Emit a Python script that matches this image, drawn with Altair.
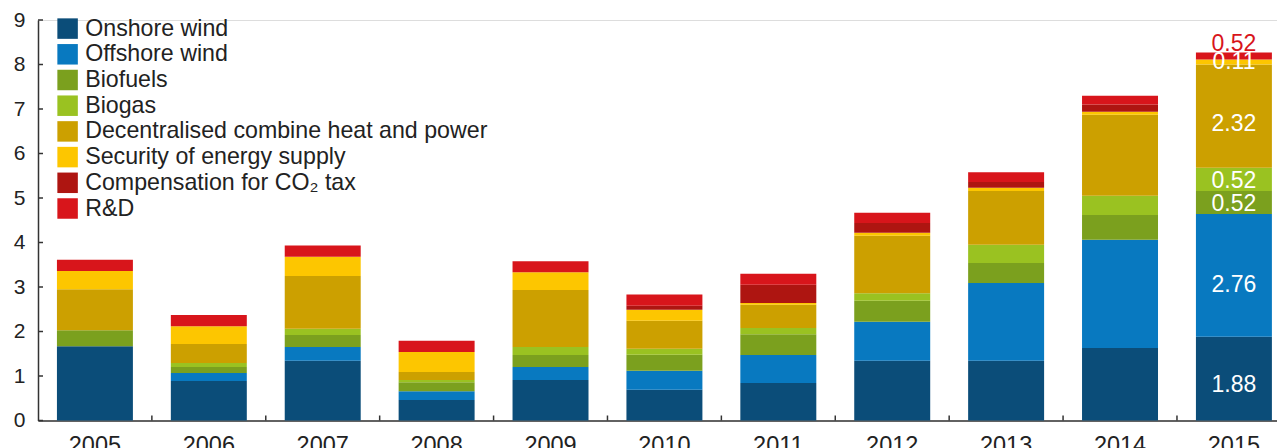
import altair as alt
import pandas as pd

years = ["2005", "2006", "2007", "2008", "2009", "2010", "2011", "2012", "2013", "2014", "2015"]
series = [
    "Onshore wind",
    "Offshore wind",
    "Biofuels",
    "Biogas",
    "Decentralised combine heat and power",
    "Security of energy supply",
    "Compensation for CO\u2082 tax",
    "R&D",
]
colors = ["#0b4d79", "#0879c0", "#7ba01e", "#9ac221", "#cca000", "#fdc600", "#ae1511", "#d8151b"]

onshore = [1.67, 0.89, 1.34, 0.46, 0.91, 0.69, 0.84, 1.34, 1.34, 1.63, 1.88]
offshore = [0.00, 0.18, 0.31, 0.20, 0.29, 0.43, 0.63, 0.88, 1.75, 2.43, 2.76]
biofuels = [0.36, 0.13, 0.27, 0.20, 0.27, 0.36, 0.47, 0.47, 0.45, 0.56, 0.52]
biogas = [0.00, 0.09, 0.14, 0.05, 0.18, 0.13, 0.14, 0.17, 0.41, 0.43, 0.52]
chp = [0.92, 0.43, 1.19, 0.18, 1.28, 0.63, 0.52, 1.29, 1.21, 1.82, 2.32]
security = [0.41, 0.40, 0.43, 0.45, 0.40, 0.25, 0.04, 0.07, 0.07, 0.07, 0.11]
co2 = [0.00, 0.00, 0.00, 0.00, 0.00, 0.09, 0.41, 0.22, 0.13, 0.16, 0.00]
rnd = [0.25, 0.25, 0.25, 0.25, 0.25, 0.25, 0.25, 0.23, 0.22, 0.20, 0.16]

# printed labels on the 2015 bar (as shown in the original)
labels_2015 = ["1.88", "2.76", "0.52", "0.52", "2.32", "0.11", "", "0.52"]

y_ticks = [0, 1, 2, 3, 4, 5, 6, 7, 8, 9]

all_values = [onshore, offshore, biofuels, biogas, chp, security, co2, rnd]

LABEL_FRAC = 0.42  # where inside a segment its label sits (style)

rows = []
for yi, yr in enumerate(years):
    base = 0.0
    for si, name in enumerate(series):
        v = all_values[si][yi]
        rows.append({"year": yr, "series": name, "order": si, "value": v,
                     "y0": base, "y1": base + v, "lpos": base + v * LABEL_FRAC})
        base += v
df = pd.DataFrame(rows)

lab = df[df["year"] == "2015"].copy().reset_index(drop=True)
lab["text"] = labels_2015
inner = lab[(lab["text"] != "") & (lab["series"] != "R&D")]
top = lab[lab["series"] == "R&D"]

FONT = "Liberation Sans"
TXT = "#222222"
W = 1239
H = 400.5
STEP = W / (11 - 0.333 + 2 * 0.1055)

xscale = alt.Scale(domain=years, paddingInner=0.333, paddingOuter=0.1055, align=0.788, round=False)
yscale = alt.Scale(domain=[0, 9], nice=False, zero=True)

bars = alt.Chart(df).mark_bar(strokeWidth=0).encode(
    x=alt.X("year:N", scale=xscale, sort=years,
            axis=alt.Axis(title=None, labelAngle=0, ticks=False, labelFontSize=23.5,
                          labelFont=FONT, labelColor=TXT, labelPadding=12.5,
                          domainColor="#333333", domainWidth=1.5)),
    y=alt.Y("y0:Q", scale=yscale,
            axis=alt.Axis(title=None, values=y_ticks, ticks=False, grid=False,
                          labelFontSize=21, labelFont=FONT, labelColor=TXT,
                          labelPadding=13, domainColor="#333333", domainWidth=1.5)),
    y2="y1:Q",
    color=alt.Color("series:N", scale=alt.Scale(domain=series, range=colors),
                    legend=alt.Legend(title=None, orient="none", legendX=18, legendY=-3,
                                      symbolType="square", symbolSize=420,
                                      symbolStrokeWidth=0, symbolOpacity=1,
                                      labelFont=FONT,
                                      labelFontSize=23.2, labelColor=TXT,
                                      labelOffset=6, rowPadding=1.7,
                                      labelLimit=700)),
    order=alt.Order("order:Q"),
)

inner_labels = alt.Chart(inner).mark_text(font=FONT, fontSize=23, baseline="middle",
                                          align="center", color="white").encode(
    x=alt.X("year:N", scale=xscale, sort=years),
    y=alt.Y("lpos:Q", scale=yscale),
    text="text:N",
)

top_labels = alt.Chart(top).mark_text(font=FONT, fontSize=23, baseline="alphabetic",
                                      align="center", dy=-1, color="#d8151b").encode(
    x=alt.X("year:N", scale=xscale, sort=years),
    y=alt.Y("y1:Q", scale=yscale),
    text="text:N",
)

xt = pd.DataFrame({"year": years[1:]})
x_ticks = alt.Chart(xt).mark_rule(color="#333333", strokeWidth=1.5, xOffset=-STEP / 2).encode(
    x=alt.X("year:N", scale=xscale, sort=years),
    y=alt.value(H - 5),
    y2=alt.value(H),
)

yt = pd.DataFrame({"v": y_ticks})
y_tick_marks = alt.Chart(yt).mark_rule(color="#333333", strokeWidth=1.5).encode(
    y=alt.Y("v:Q", scale=yscale),
    x=alt.value(0),
    x2=alt.value(5),
)

chart = alt.layer(bars, x_ticks, y_tick_marks, inner_labels, top_labels).properties(
    width=W, height=H,
    autosize=alt.AutoSizeParams(type="none"),
    padding={"left": 30, "top": 12, "right": 0, "bottom": 28},
).configure_view(stroke=None).configure(background="white")

chart.save("out.html", embed_options={"renderer": "svg", "actions": False})
